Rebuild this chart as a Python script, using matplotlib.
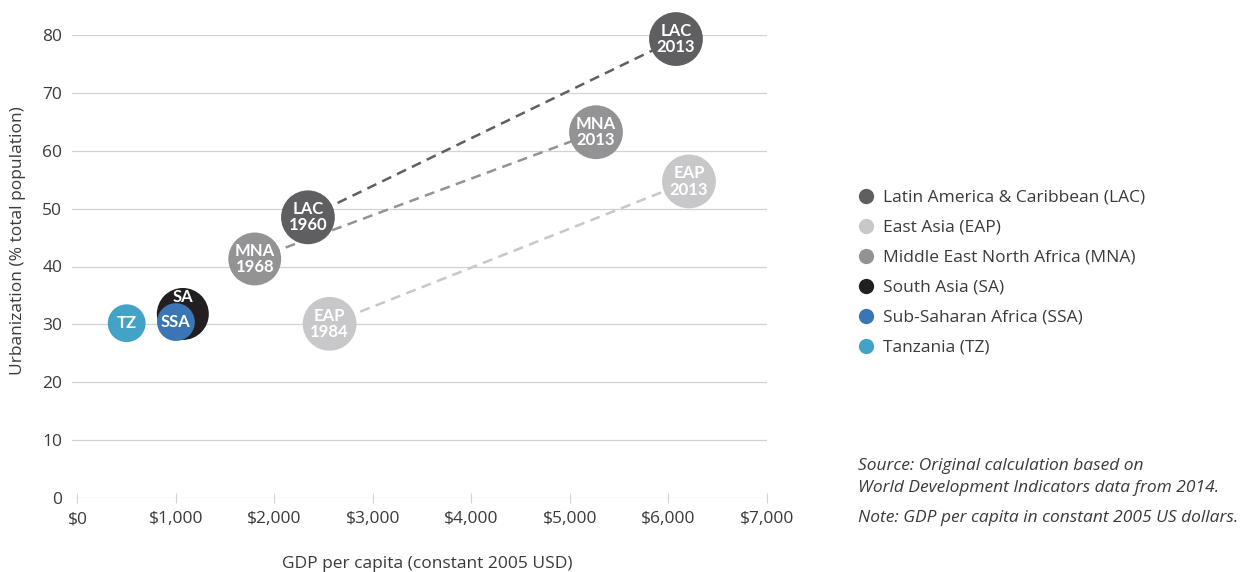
import matplotlib
matplotlib.use('Agg')
import matplotlib.pyplot as plt
from matplotlib.lines import Line2D

plt.rcParams['font.family'] = ['Open Sans', 'DejaVu Sans']

# regions, first observation
codes = ['LAC', 'EAP', 'MNA', 'SA', 'SSA', 'TZ']
names = ['Latin America & Caribbean (LAC)', 'East Asia (EAP)',
         'Middle East North Africa (MNA)', 'South Asia (SA)',
         'Sub-Saharan Africa (SSA)', 'Tanzania (TZ)']
colors = ['#5f5f61', '#c8c8ca', '#939396', '#231f20', '#3a76b5', '#43a3c6']
gdp_start = [2340, 2560, 1800, 1070, 1000, 500]
urb_start = [48.5, 30.1, 41.3, 31.8, 30.4, 30.2]
year_start = ['1960', '1984', '1968', '', '', '']
sizes = [1500, 1500, 1450, 1400, 740, 740]

# 2013 observation for the three regions that moved
moved = ['LAC', 'MNA', 'EAP']
gdp_2013 = [6076, 5264, 6208]
urb_2013 = [79.3, 63.2, 54.7]

xticks = [0, 1000, 2000, 3000, 4000, 5000, 6000, 7000]
yticks = [0, 10, 20, 30, 40, 50, 60, 70, 80]

txt = '#3a3a3a'
grid = '#d2d2d2'
bub_font = ['Lato', 'DejaVu Sans']

fig = plt.figure(figsize=(12.49, 5.72), dpi=100)
ax = fig.add_axes([72 / 1249, 1 - 498 / 572, (767 - 72) / 1249, 463 / 572])

ax.set_xlim(-55, 7000)
ax.set_ylim(0, 80)
for s in ax.spines.values():
    s.set_visible(False)
ax.set_yticks(yticks)
ax.set_xticks(xticks)
ax.set_xticklabels(['$' + format(v, ',') for v in xticks])
ax.tick_params(axis='y', length=0, pad=7, labelsize=12.5, labelcolor=txt)
ax.tick_params(axis='x', direction='inout', length=7, width=0.8, color=grid,
               pad=6, labelsize=12.5, labelcolor=txt)
ax.grid(axis='y', color=grid, linewidth=0.9)
ax.set_axisbelow(True)

# dashed trajectories
for code, x1, y1 in zip(moved, gdp_2013, urb_2013):
    i = codes.index(code)
    ax.plot([gdp_start[i], x1], [urb_start[i], y1], ls=(0, (4, 2.6)),
            lw=1.8, color=colors[i], zorder=2)

# bubbles
for i in range(len(codes)):
    ax.scatter(gdp_start[i], urb_start[i], s=sizes[i], color=colors[i],
               edgecolors='none', zorder=3 + i, clip_on=False)
    if year_start[i]:
        lab = codes[i] + '\n' + year_start[i]
        off = 0
    elif codes[i] == 'SA':
        lab = 'SA'
        off = 12
    else:
        lab = codes[i]
        off = 0
    ax.annotate(lab, (gdp_start[i], urb_start[i]), xytext=(0, off),
                textcoords='offset points', ha='center', va='center',
                color='white', fontsize=12, fontweight='bold',
                family=bub_font, linespacing=1.02, zorder=10)

for code, x1, y1 in zip(moved, gdp_2013, urb_2013):
    i = codes.index(code)
    ax.scatter(x1, y1, s=1500, color=colors[i], edgecolors='none',
               zorder=3, clip_on=False)
    ax.annotate(code + '\n2013', (x1, y1), ha='center', va='center',
                color='white', fontsize=12, fontweight='bold',
                family=bub_font, linespacing=1.02, zorder=10)

fig.text(18 / 1249, 1 - 241 / 572, 'Urbanization (% total population)',
         rotation=90, ha='center', va='center', fontsize=12.5, color=txt)
fig.text(427 / 1249, 1 - 564 / 572, 'GDP per capita (constant 2005 USD)',
         ha='center', va='center', fontsize=12.5, color=txt)

handles = [Line2D([], [], ls='none', marker='o', markersize=11,
                  markerfacecolor=c, markeredgecolor='none') for c in colors]
fig.legend(handles, names, loc='upper left',
           bbox_to_anchor=(840 / 1249, 1 - 174 / 572), frameon=False,
           fontsize=12.5, labelcolor=txt, handletextpad=0.4,
           labelspacing=0.8, handlelength=1.2)

fig.text(858 / 1249, 1 - 477 / 572,
         'Source: Original calculation based on\n'
         'World Development Indicators data from 2014.',
         ha='left', va='center', fontsize=12.5, style='italic', color=txt,
         linespacing=1.45)
fig.text(858 / 1249, 1 - 518 / 572,
         'Note: GDP per capita in constant 2005 US dollars.',
         ha='left', va='center', fontsize=12.5, style='italic', color=txt)

fig.savefig('out.png', dpi=100)
